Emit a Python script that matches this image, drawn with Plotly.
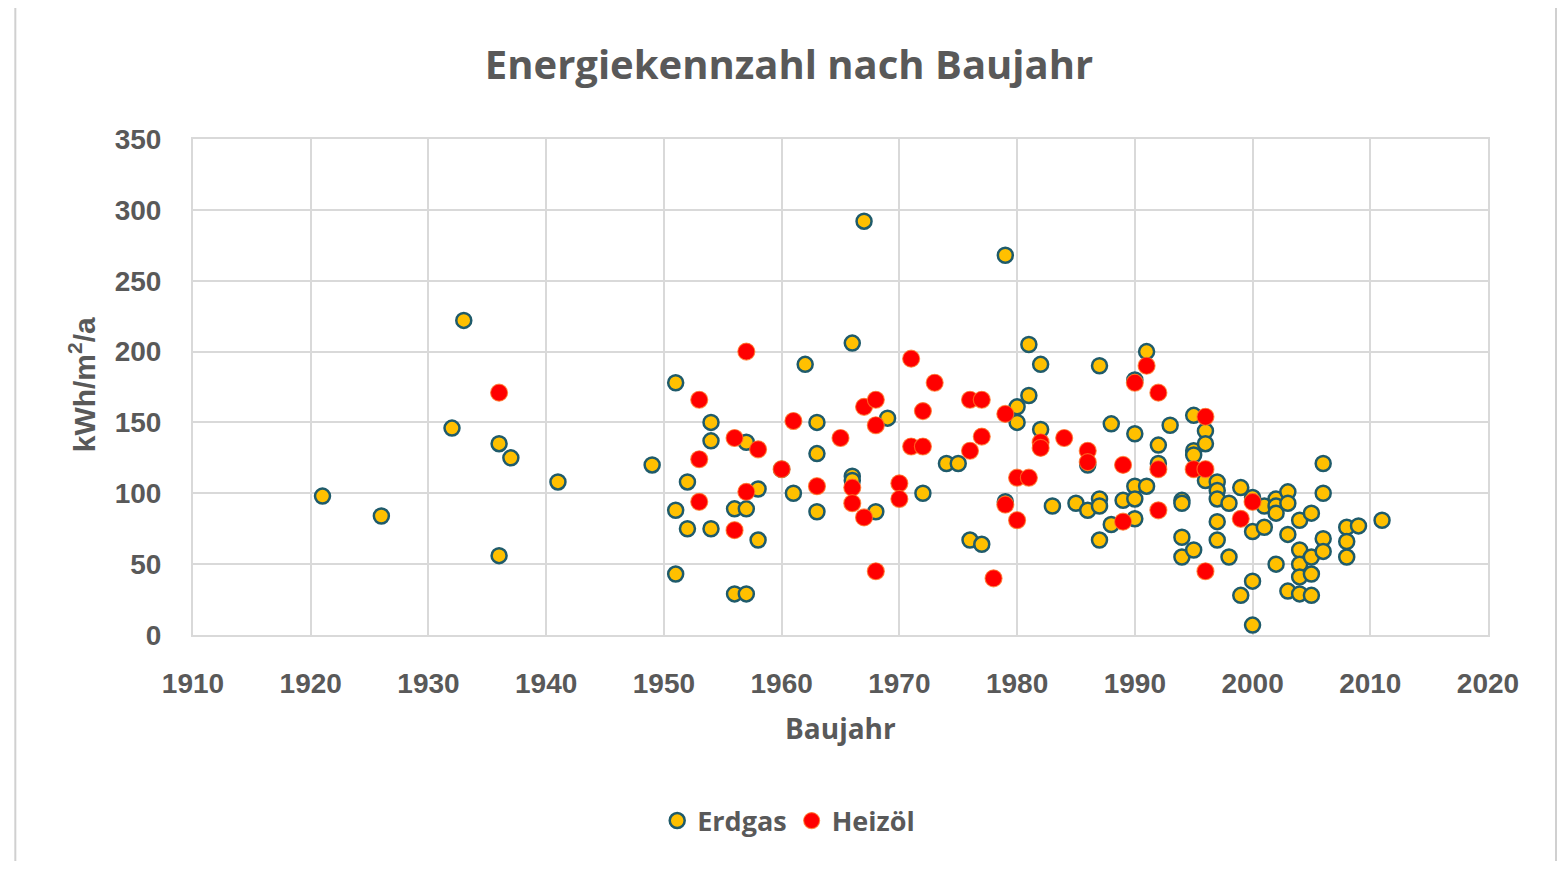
import plotly.graph_objects as go

# ---- data ----
erdgas_jahr = [1921, 1926, 1932, 1933, 1936, 1936, 1937, 1941, 1949, 1951, 1951, 1951,
               1952, 1952, 1954, 1954, 1954, 1956, 1956, 1957, 1957, 1957, 1958, 1958,
               1960, 1961, 1962, 1963, 1963, 1963, 1966, 1966, 1966, 1967, 1968, 1969,
               1972, 1974, 1975, 1976, 1977, 1979, 1979, 1980, 1980, 1981, 1981, 1982,
               1982, 1983, 1985, 1986, 1986, 1987, 1987, 1987, 1987, 1988, 1988, 1989,
               1990, 1990, 1990, 1990, 1990, 1991, 1991, 1992, 1992, 1993, 1994, 1994,
               1994, 1994, 1995, 1995, 1995, 1995, 1996, 1996, 1996, 1997, 1997, 1997,
               1997, 1997, 1998, 1998, 1999, 1999, 2000, 2000, 2000, 2000, 2001, 2001,
               2002, 2002, 2002, 2002, 2003, 2003, 2003, 2003, 2004, 2004, 2004, 2004,
               2004, 2005, 2005, 2005, 2005, 2006, 2006, 2006, 2006, 2008, 2008, 2008,
               2009, 2011]
erdgas_wert = [98, 84, 146, 222, 135, 56, 125, 108, 120, 178, 88, 43,
               108, 75, 150, 137, 75, 89, 29, 136, 89, 29, 103, 67,
               117, 100, 191, 150, 128, 87, 206, 112, 109, 292, 87, 153,
               100, 121, 121, 67, 64, 268, 94, 161, 150, 205, 169, 191,
               145, 91, 93, 120, 88, 190, 96, 91, 67, 149, 78, 95,
               180, 142, 105, 96, 82, 200, 105, 134, 121, 148, 95, 93,
               69, 55, 155, 130, 127, 60, 144, 135, 109, 108, 102, 96,
               80, 67, 93, 55, 104, 28, 97, 73, 38, 7, 91, 76,
               96, 91, 86, 50, 101, 93, 71, 31, 81, 60, 50, 41,
               29, 86, 55, 43, 28, 121, 100, 68, 59, 76, 66, 55,
               77, 81]

heizoel_jahr = [1936, 1953, 1953, 1953, 1956, 1956, 1957, 1957, 1958, 1960, 1961, 1963,
                1965, 1966, 1966, 1967, 1967, 1968, 1968, 1968, 1970, 1970, 1971, 1971,
                1972, 1972, 1973, 1976, 1976, 1977, 1977, 1978, 1979, 1979, 1980, 1980,
                1981, 1982, 1982, 1984, 1986, 1986, 1989, 1989, 1990, 1991, 1992, 1992,
                1992, 1995, 1996, 1996, 1996, 1999, 2000]
heizoel_wert = [171, 166, 124, 94, 139, 74, 200, 101, 131, 117, 151, 105,
                139, 104, 93, 161, 83, 166, 148, 45, 107, 96, 195, 133,
                158, 133, 178, 166, 130, 166, 140, 40, 156, 92, 111, 81,
                111, 136, 132, 139, 130, 122, 120, 80, 178, 190, 171, 117,
                88, 117, 154, 117, 45, 82, 94]

titel = "Energiekennzahl nach Baujahr"
x_titel = "Baujahr"
y_titel = "kWh/m<sup>2</sup>/a"
x_ticks = list(range(1910, 2021, 10))
y_ticks = list(range(0, 351, 50))

GRAU = "#595959"
GRID = "#D9D9D9"

fig = go.Figure()
fig.add_trace(go.Scatter(
    x=erdgas_jahr, y=erdgas_wert, mode="markers", name="Erdgas",
    marker=dict(size=15, color="#FFC000", line=dict(color="#1F5B6B", width=2.5)),
))
fig.add_trace(go.Scatter(
    x=heizoel_jahr, y=heizoel_wert, mode="markers", name="Heizöl",
    marker=dict(size=17, color="#FF0000", line=dict(color="rgba(255,120,40,0.75)", width=1.2)),
))

W, H = 1552, 853  # page body has an 8px margin
fig.update_layout(
    width=W, height=H,
    margin=dict(l=185, r=W - 185 - 1295, t=131, b=H - 131 - 496),
    paper_bgcolor="white", plot_bgcolor="white",
    title=dict(text=titel, x=(789 - 8) / W, xref="container", xanchor="center",
               y=1 - (65 - 8) / H, yref="container", yanchor="middle",
               font=dict(family="Open Sans", size=40, color=GRAU, weight="bold")),
    showlegend=True,
    legend=dict(orientation="h", x=0.46, xanchor="center", y=-0.375, yanchor="middle",
                font=dict(family="Open Sans", size=27, color=GRAU, weight="bold")),
    shapes=[dict(type="rect", xref="paper", yref="paper",
                 x0=-0.1372, x1=1.0525, y0=-0.48, y1=1.2669,
                 line=dict(color="#D0D0D0", width=2), layer="below")],
    annotations=[
        dict(text=x_titel, xref="paper", yref="paper", x=0.5, y=-0.1876,
             xanchor="center", yanchor="middle", showarrow=False,
             font=dict(family="Open Sans", size=28, color=GRAU, weight="bold")),
        dict(text=y_titel, xref="paper", yref="paper", x=-0.0855, y=0.504,
             xanchor="center", yanchor="middle", showarrow=False, textangle=-90,
             font=dict(family="Liberation Sans", size=30, color=GRAU, weight="bold")),
    ],
)
fig.update_xaxes(range=[1910, 2020], tickvals=x_ticks, showgrid=True, gridcolor=GRID,
                 gridwidth=2, showline=True, linecolor=GRID, linewidth=2, mirror=True,
                 zeroline=False, ticks="outside", ticklen=22, tickcolor="rgba(0,0,0,0)",
                 tickfont=dict(family="Liberation Sans", size=28, color=GRAU, weight="bold"))
fig.update_yaxes(range=[0, 350], tickvals=y_ticks, showgrid=True, gridcolor=GRID,
                 gridwidth=2, showline=True, linecolor=GRID, linewidth=2, mirror=True,
                 zeroline=False, ticks="outside", ticklen=24, tickcolor="rgba(0,0,0,0)",
                 tickfont=dict(family="Liberation Sans", size=28, color=GRAU, weight="bold"))

fig.write_html("out.html")
